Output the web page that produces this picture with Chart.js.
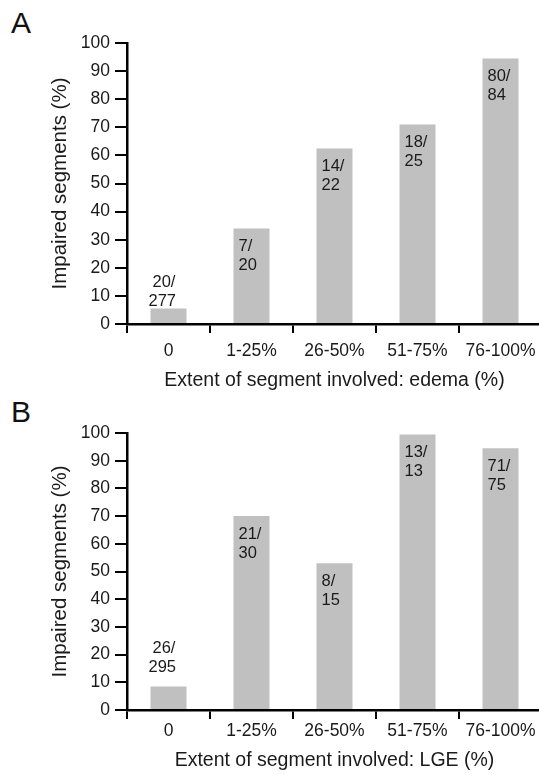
<!DOCTYPE html>
<html>
<head>
<meta charset="utf-8">
<script src="https://cdn.jsdelivr.net/npm/chart.js@4/dist/chart.umd.min.js"></script>
<style>
  html, body { margin: 0; padding: 0; background: #fff; overflow: hidden; }
  body { width: 539px; height: 775px; position: relative; font-family: "Liberation Sans", Arial, sans-serif; }
  .panel { position: absolute; left: 0; width: 545px; }
  .tag { position: absolute; left: 11px; font-size: 30px; color: #111; line-height: 1; }
</style>
</head>
<body>
<div class="tag" style="top:8px">A</div>
<div class="panel" style="top:0; height:395px"><canvas id="chartA" width="545" height="395"></canvas></div>
<div class="tag" style="top:397px">B</div>
<div class="panel" style="top:390px; height:385px"><canvas id="chartB" width="545" height="385"></canvas></div>
<script>
// ------------------------------- data -------------------------------
const categories = ['0', '1-25%', '26-50%', '51-75%', '76-100%'];
const yTicks = [0, 10, 20, 30, 40, 50, 60, 70, 80, 90, 100];

// panel A - edema
const edemaValues = [5.5, 34, 62.5, 71, 94.5];
const edemaCounts = ['20/277', '7/20', '14/22', '18/25', '80/84'];

// panel B - LGE
const lgeValues = [8.5, 70, 53, 99.5, 94.5];
const lgeCounts = ['26/295', '21/30', '8/15', '13/13', '71/75'];

const FONT = '"Liberation Sans", Arial, Helvetica, sans-serif';

// --------------------- n/N text on top of the bars ---------------------
const barNotes = {
  id: 'barNotes',
  afterDatasetsDraw(chart, args, opts) {
    const ctx = chart.ctx;
    const meta = chart.getDatasetMeta(0);
    const values = chart.data.datasets[0].data;
    ctx.save();
    ctx.font = '16.5px ' + FONT;
    ctx.fillStyle = '#1a1a1a';
    ctx.textBaseline = 'middle';
    ctx.textAlign = 'left';
    meta.data.forEach((bar, i) => {
      const parts = opts.notes[i].split('/');
      const left = bar.x - bar.width / 2;
      if (values[i] < 15) {
        // small bar: write it above
        ctx.fillText(parts[0] + '/', left + 2, bar.y - opts.gap - 19);
        ctx.fillText(parts[1], left - 2, bar.y - opts.gap);
      } else {
        ctx.fillText(parts[0] + '/', left + 5, bar.y + 18);
        ctx.fillText(parts[1], left + 5, bar.y + 37);
      }
    });
    ctx.restore();
  }
};

function makeChart(id, values, counts, xTitle, H, plotBottom, tickPad, gap) {
  const padLeft = 44;
  const padBottom = 0;
  return new Chart(document.getElementById(id), {
    type: 'bar',
    data: {
      labels: categories,
      datasets: [{
        data: values,
        backgroundColor: '#c0c0c0',
        borderWidth: 0,
        categoryPercentage: 1,
        barPercentage: 0.434
      }]
    },
    plugins: [barNotes],
    options: {
      responsive: false,
      animation: false,
      layout: { padding: { left: padLeft, top: 43, right: 3, bottom: padBottom } },
      plugins: {
        legend: { display: false },
        tooltip: { enabled: false },
        barNotes: { notes: counts, gap: gap }
      },
      scales: {
        x: {
          grid: { offset: true, drawOnChartArea: false, drawTicks: true, tickLength: 9, lineWidth: 2, color: '#000' },
          border: { display: true, color: '#000', width: 2.5 },
          ticks: { color: '#1a1a1a', font: { family: FONT, size: 17.5 }, padding: tickPad, maxRotation: 0 },
          title: { display: true, text: xTitle, color: '#1a1a1a', font: { family: FONT, size: 19.5 }, padding: { top: 4, bottom: 3 } },
          afterFit: (scale) => { scale.height = H - plotBottom - padBottom; }
        },
        y: {
          min: 0,
          max: 100,
          afterBuildTicks: (scale) => { scale.ticks = yTicks.map(v => ({ value: v })); },
          grid: { drawOnChartArea: false, drawTicks: true, tickLength: 12, lineWidth: 2, color: '#000' },
          border: { display: true, color: '#000', width: 2.5 },
          ticks: { color: '#1a1a1a', font: { family: FONT, size: 17.5 }, padding: 5 },
          title: { display: true, text: 'Impaired segments (%)', color: '#1a1a1a', font: { family: FONT, size: 20.5 }, padding: { top: 4, bottom: 4 } },
          afterFit: (scale) => { scale.width = 127 - padLeft; }
        }
      }
    }
  });
}

makeChart('chartA', edemaValues, edemaCounts, 'Extent of segment involved: edema (%)', 395, 324, 8, 7);
makeChart('chartB', lgeValues, lgeCounts, 'Extent of segment involved: LGE (%)', 385, 320, 2, 19);
</script>
</body>
</html>
